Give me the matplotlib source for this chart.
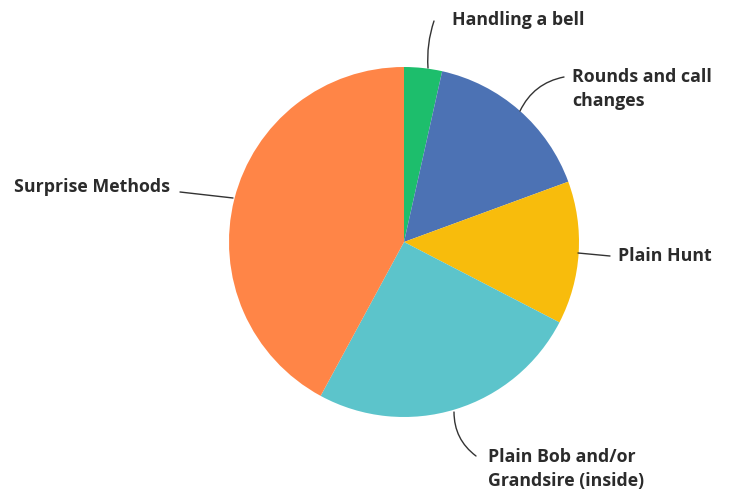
import matplotlib
matplotlib.use("Agg")
import matplotlib.pyplot as plt

plt.rcParams["font.family"] = ["Open Sans", "DejaVu Sans"]

labels = ["Handling a bell", "Rounds and call\nchanges", "Plain Hunt",
          "Plain Bob and/or\nGrandsire (inside)", "Surprise Methods"]
shares = [3.5, 15.9, 13.2, 25.3, 42.1]
colors = ["#1DBE6C", "#4C72B4", "#F8BC0C", "#5CC4CB", "#FF8547"]

W, H = 746, 491
fig = plt.figure(figsize=(W / 100, H / 100), dpi=100)
ax = fig.add_axes([0, 0, 1, 1])

cx, cy, r = 404, H - 242, 175
ax.pie(shares, colors=colors, startangle=90, counterclock=False,
       center=(cx, cy), radius=r, frame=True,
       wedgeprops=dict(linewidth=0))
ax.set_xlim(0, W)
ax.set_ylim(0, H)
ax.axis("off")

# text anchor, leader start, leader end (pixels, top-left origin), align, curve
label_pos = [
    ((452, 20), (434, 21), (428, 68), "left", 0.1),
    ((572, 89), (564, 77), (520, 111), "left", 0.25),
    ((618, 256), (610, 256), (578, 253), "left", 0.0),
    ((488, 469), (476, 456), (454, 412), "left", -0.25),
    ((170, 187), (180, 192), (233, 198), "right", 0.0),
]

for lab, (tpos, start, tip, ha, rad) in zip(labels, label_pos):
    ax.text(tpos[0], H - tpos[1], lab, ha=ha, va="center", fontsize=12.8,
            fontweight="bold", color="#2b2b2b", linespacing=1.45)
    ax.annotate("", xy=(tip[0], H - tip[1]), xytext=(start[0], H - start[1]),
                arrowprops=dict(arrowstyle="-", color="#333333", lw=1.0,
                                shrinkA=0, shrinkB=0,
                                connectionstyle=f"arc3,rad={rad}"))

fig.savefig("out.png", dpi=100)
